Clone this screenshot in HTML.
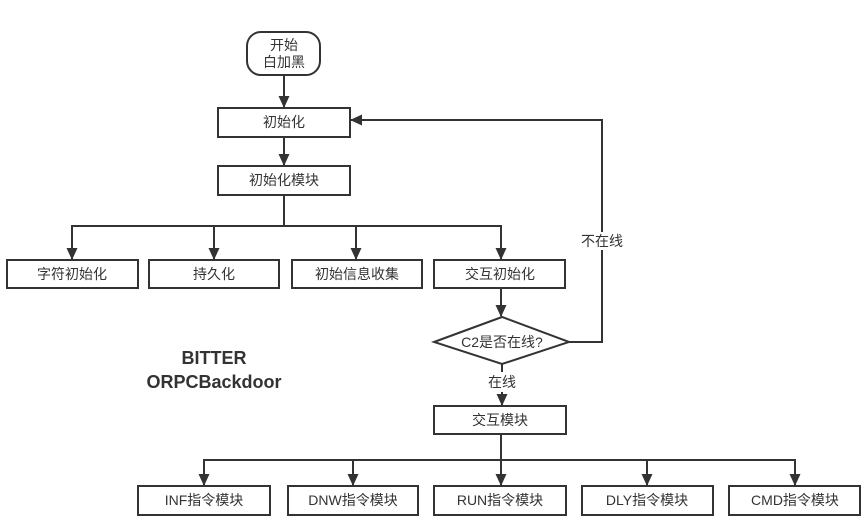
<!DOCTYPE html>
<html><head><meta charset="utf-8"><style>
html,body{margin:0;padding:0;background:#fff;}
svg{display:block}
text{font-family:"Liberation Sans","Noto Sans CJK SC",sans-serif;font-size:14px;fill:#333;}
</style></head><body>
<svg width="865" height="520" viewBox="0 0 865 520" xmlns="http://www.w3.org/2000/svg">
<defs><marker id="a" markerWidth="12" markerHeight="12" refX="11" refY="6" orient="auto" markerUnits="userSpaceOnUse"><path d="M0,0.5 L12,6 L0,11.5 z" fill="#333"/></marker></defs>
<g stroke="#333" stroke-width="2" fill="#fff">
<rect x="247" y="32" width="73" height="43" rx="14"/>
<rect x="218" y="108" width="132" height="29"/>
<rect x="218" y="166" width="132" height="29"/>
<rect x="7" y="260" width="131" height="28"/>
<rect x="149" y="260" width="130" height="28"/>
<rect x="292" y="260" width="130" height="28"/>
<rect x="434" y="260" width="131" height="28"/>
<polygon points="434,342 502,317 569,342 502,364"/>
<rect x="434" y="406" width="132" height="28"/>
<rect x="138" y="486" width="132" height="29"/>
<rect x="288" y="486" width="130" height="29"/>
<rect x="434" y="486" width="132" height="29"/>
<rect x="582" y="486" width="131" height="29"/>
<rect x="729" y="486" width="131" height="29"/>
</g>
<g stroke="#333" stroke-width="2" fill="none">
<line x1="284" y1="75" x2="284" y2="107" marker-end="url(#a)"/>
<line x1="284" y1="137" x2="284" y2="165" marker-end="url(#a)"/>
<line x1="284" y1="195" x2="284" y2="226"/>
<line x1="72" y1="226" x2="501" y2="226"/>
<line x1="72" y1="225" x2="72" y2="259" marker-end="url(#a)"/>
<line x1="214" y1="225" x2="214" y2="259" marker-end="url(#a)"/>
<line x1="356" y1="225" x2="356" y2="259" marker-end="url(#a)"/>
<line x1="501" y1="225" x2="501" y2="259" marker-end="url(#a)"/>
<line x1="501" y1="288" x2="501" y2="316" marker-end="url(#a)"/>
<polyline points="569,342 602,342 602,120 351,120" marker-end="url(#a)"/>
<line x1="502" y1="364" x2="502" y2="372"/>
<line x1="502" y1="392" x2="502" y2="405" marker-end="url(#a)"/>
<line x1="501" y1="434" x2="501" y2="460"/>
<line x1="204" y1="460" x2="796" y2="460"/>
<line x1="204" y1="459" x2="204" y2="485" marker-end="url(#a)"/>
<line x1="353" y1="459" x2="353" y2="485" marker-end="url(#a)"/>
<line x1="501" y1="459" x2="501" y2="485" marker-end="url(#a)"/>
<line x1="647" y1="459" x2="647" y2="485" marker-end="url(#a)"/>
<line x1="795" y1="459" x2="795" y2="485" marker-end="url(#a)"/>
</g>
<rect x="578" y="232" width="48" height="18" fill="#fff"/>
<g text-anchor="middle">
<text x="284" y="50">开始</text>
<text x="284" y="67">白加黑</text>
<text x="284" y="127">初始化</text>
<text x="284" y="185">初始化模块</text>
<text x="72" y="279">字符初始化</text>
<text x="214" y="279">持久化</text>
<text x="357" y="279">初始信息收集</text>
<text x="500" y="279">交互初始化</text>
<text x="502" y="347">C2是否在线?</text>
<text x="602" y="246">不在线</text>
<text x="502" y="387">在线</text>
<text x="500" y="425">交互模块</text>
<text x="204" y="505">INF指令模块</text>
<text x="353" y="505">DNW指令模块</text>
<text x="500" y="505">RUN指令模块</text>
<text x="647" y="505">DLY指令模块</text>
<text x="795" y="505">CMD指令模块</text>
<text x="214" y="364" style="font-size:18px;font-weight:bold">BITTER</text>
<text x="214" y="388" style="font-size:18px;font-weight:bold">ORPCBackdoor</text>
</g>
</svg>
</body></html>
